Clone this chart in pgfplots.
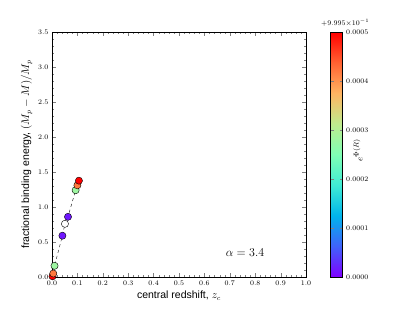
\documentclass[border=0pt]{standalone}
\usepackage[no-math]{fontspec}
\setmainfont{Liberation Sans}
\usepackage{pgfplots}
\pgfplotsset{compat=1.18}
\pgfplotsset{
  colormap={mplrainbow}{
    rgb=(0.5,0,1) rgb=(0.25,0.383,0.981) rgb=(0,0.707,0.924) rgb=(0.25,0.924,0.831)
    rgb=(0.5,1,0.707) rgb=(0.75,0.924,0.556) rgb=(1,0.707,0.383) rgb=(1,0.383,0.195) rgb=(1,0,0)}
}
\begin{document}
\begin{tikzpicture}
\useasboundingbox (-52pt,-32pt) rectangle (358pt,277pt);
\begin{axis}[
  at={(0,0)}, anchor=south west,
  scale only axis, width=254pt, height=245pt,
  xmin=0, xmax=1, ymin=0, ymax=3.5,
  xtick distance=0.1, ytick distance=0.5,
  minor x tick num=4, minor y tick num=4,
  tick align=inside,
  major tick length=4pt, minor tick length=2pt,
  xticklabel style={/pgf/number format/.cd, fixed, fixed zerofill, precision=1},
  yticklabel style={/pgf/number format/.cd, fixed, fixed zerofill, precision=1},
  ticklabel style={font=\fontsize{7.5}{9}\selectfont},
  xlabel={central redshift, $z_c$},
  ylabel={fractional binding energy, $(M_p-M)/M_p$},
  label style={font=\fontsize{10.5}{12}\selectfont},
  xlabel style={yshift=1pt},
  ylabel style={yshift=-1pt},
  colormap name=mplrainbow,
  point meta min=0, point meta max=5,
  colorbar right,
  colorbar style={
    at={(parent axis.north east)}, anchor=north west, xshift=16pt,
    width=12pt,
    ytick={0,1,2,3,4,5},
    yticklabels={$0.0000$,$0.0001$,$0.0002$,$0.0003$,$0.0004$,$0.0005$},
    yticklabel style={font=\fontsize{7.5}{9}\selectfont},
    tick align=inside, major tick length=3pt,
  },
]
\addplot[black, dashed, thin, forget plot] coordinates {
  (0.002,0.01) (0.005,0.05) (0.010,0.16) (0.041,0.59) (0.051,0.76)
  (0.063,0.86) (0.093,1.24) (0.100,1.31) (0.106,1.376)
};
\addplot[scatter, only marks, mark=*, mark size=3.6pt, point meta=explicit,
  scatter/use mapped color={draw=black, fill=mapped color}]
  table[meta=c] {
  x y c
  0.002 0.01 5.0
  0.005 0.05 4.2
  0.010 0.16 2.8
  0.041 0.59 0.15
  0.063 0.86 0.15
  0.093 1.24 2.8
  0.100 1.31 4.2
  0.106 1.376 5.0
};
\addplot[only marks, mark=*, mark size=3.6pt, mark options={fill=white, draw=black}]
  coordinates {(0.051,0.76)};
\node[font=\fontsize{12}{14}\selectfont] at (axis cs:0.76,0.35) {$\alpha=3.4$};
\end{axis}
\node[anchor=south west, inner sep=0pt, font=\fontsize{7.5}{9}\selectfont] at (269pt,250pt) {$+9.995{\times}10^{-1}$};
\node[rotate=90, font=\fontsize{9.5}{11}\selectfont] at (306pt,127pt) {$e^{\Phi(R)}$};
\end{tikzpicture}
\end{document}
